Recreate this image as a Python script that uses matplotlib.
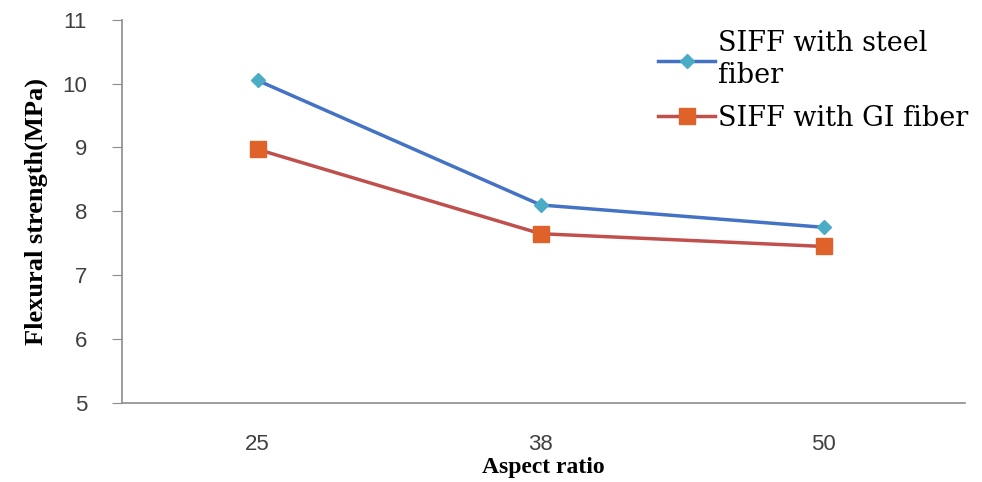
import matplotlib.pyplot as plt

categories = ["25", "38", "50"]
steel = [10.05, 8.1, 7.75]
gi = [8.97, 7.65, 7.45]
yticks = [5, 6, 7, 8, 9, 10, 11]

fig = plt.figure(figsize=(9.82, 4.82), dpi=100)
ax = fig.add_axes([0.124, 0.164, 0.859, 0.795])

x = range(len(categories))
ax.plot(x, steel, color="#4472C4", lw=2.5, marker="D", ms=7,
        mfc="#4BACC6", mec="#4BACC6", label="SIFF with steel\nfiber")
ax.plot(x, gi, color="#C0504D", lw=2.5, marker="s", ms=11,
        mfc="#E0622B", mec="#E0622B", label="SIFF with GI fiber")

ax.set_xlim(-0.48, 2.5)
ax.set_ylim(5, 11)
ax.set_yticks(yticks)
ax.set_xticks(list(x))
ax.set_xticklabels(categories)

for s in ["top", "right"]:
    ax.spines[s].set_visible(False)
for s in ["left", "bottom"]:
    ax.spines[s].set_color("#8c8c8c")
    ax.spines[s].set_linewidth(1.2)

ax.tick_params(axis="y", length=7, color="#8c8c8c", labelsize=16,
               labelcolor="#404040", pad=18)
ax.tick_params(axis="x", length=0, labelsize=16, labelcolor="#404040", pad=22)
for lab in ax.get_xticklabels() + ax.get_yticklabels():
    lab.set_family("Liberation Sans")

ax.set_xlabel("Aspect ratio", fontsize=17, fontweight="bold",
              family="Liberation Serif", labelpad=2)
ax.set_ylabel("Flexural strength(MPa)", fontsize=19, fontweight="bold",
              family="Liberation Serif", labelpad=10)

ax.legend(loc="upper left", bbox_to_anchor=(0.665, 0.948),
          bbox_transform=fig.transFigure, frameon=False,
          prop={"family": "DejaVu Serif", "size": 19.5},
          borderpad=0.2, borderaxespad=0,
          handlelength=2.1, handletextpad=0.1, labelspacing=0.6)

fig.savefig("out.png", dpi=100)
